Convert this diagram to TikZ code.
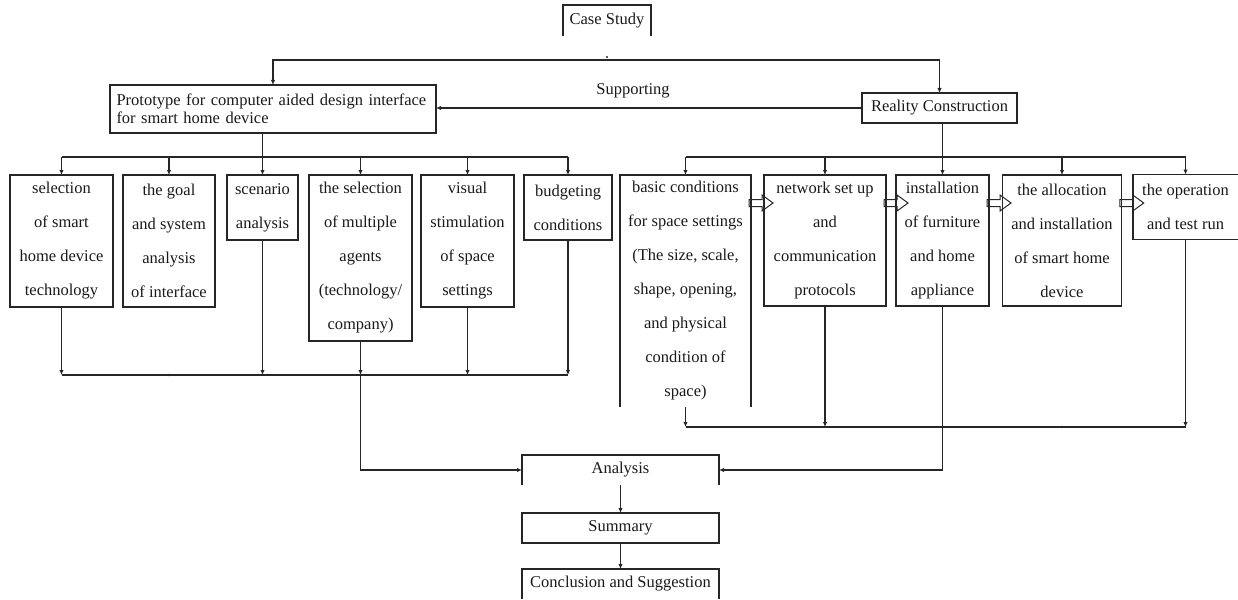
\documentclass[tikz,border=0pt]{standalone}
\usepackage{fontspec}
\setmainfont{Liberation Serif}
\usetikzlibrary{arrows.meta,calc}
\begin{document}
\begin{tikzpicture}[x=1pt,y=-1pt,
  every node/.style={inner sep=0pt, outer sep=0pt},
  txt/.style={font=\fontsize{16.5}{34}\selectfont, align=center, text=black!90},
  box/.style={draw=black!85, line width=1.2pt, txt},
  conn/.style={draw=black!85, line width=1.2pt},
  arr/.style={conn, -{Latex[length=5pt,width=4.5pt]}},
  side/.style={draw=black!85, line width=1.2pt},
  hollowarr/.pic={\draw[draw=black!85, line width=1pt] (0,-3.5) -- (13,-3.5) -- (13,-8) -- (24,0) -- (13,8) -- (13,3.5) -- (0,3.5) -- cycle;}
]
\useasboundingbox (0,0) rectangle (1238,599);

% top
\node[txt, minimum width=88, minimum height=31] (cs) at (607,20.5) {Case Study};
\draw[side] (cs.south west) -- (cs.north west) -- (cs.north east) -- (cs.south east);
\fill[black!85] ([yshift=-21pt]cs.south) circle (1.1pt);
\coordinate (top) at (607,60);

\node[box, minimum width=326, minimum height=48, align=left, text width=313,
      font=\fontsize{16.5}{18.5}\selectfont] (proto) at (273,109)
  {Prototype for computer aided design interface\\for smart home device};
\node[box, minimum width=155, minimum height=30] (rc) at (939.5,108) {Reality Construction};
\node[txt] (sup) at (633,91) {Supporting};

\draw[arr] (top) -| (proto.north);
\draw[arr] (top) -| (rc.north);
\draw[arr] (rc.west) -- (rc.west -| proto.east);

% left boxes
\node[box, minimum width=103, minimum height=132] (b1) at (61.5,241) {selection\\of smart\\home device\\technology};
\node[box, minimum width=92, minimum height=132] (b2) at (169,241) {the goal\\and system\\analysis\\of interface};
\node[box, minimum width=71, minimum height=65] (b3) at (262.5,207.5) {scenario\\analysis};
\node[box, minimum width=103, minimum height=166] (b4) at (360.5,258) {the selection\\of multiple\\agents\\(technology/\\company)};
\node[box, minimum width=93, minimum height=132] (b5) at (467.5,241) {visual\\stimulation\\of space\\settings};
\node[box, minimum width=88, minimum height=65] (b6) at (568,207.5) {budgeting\\conditions};

\draw[arr] (proto.south -| b3.north) -- (b3.north);
\draw[conn] (b1.north |- 0,157) -- (b6.north |- 0,157);
\foreach \b in {b1,b2,b4,b5,b6} { \draw[arr] (\b.north |- 0,157) -- (\b.north); }

\draw[conn] (b1.south |- 0,375) -- (b6.south |- 0,375);
\foreach \b in {b1,b3,b4,b5,b6} { \draw[arr] (\b.south) -- (\b.south |- 0,375); }
\fill[black!85] (b2.south |- 0,375) circle (1.3pt);

% right boxes
\node[txt, minimum width=131, minimum height=232] (b7) at (685.5,291) {basic conditions\\for space settings\\(The size, scale,\\shape, opening,\\and physical\\condition of\\space)};
\draw[side] (b7.south west) -- (b7.north west) -- (b7.north east) -- (b7.south east);
\node[box, minimum width=122, minimum height=131] (b8) at (825,240.5) {network set up\\and\\communication\\protocols};
\node[box, minimum width=93, minimum height=131] (b9) at (942.5,240.5) {installation\\of furniture\\and home\\appliance};
\node[box, minimum width=119.5, minimum height=131] (b10) at (1062,240.5) {the allocation\\and installation\\of smart home\\device};
\node[txt, minimum width=105, minimum height=65] (b11) at (1185.5,207) {the operation\\and test run};
\draw[side] (b11.north east) -- (b11.north west) -- (b11.south west) -- (b11.south east);

\draw[arr] (rc.south -| b9.north) -- (b9.north);
\draw[conn] (b7.north |- 0,157) -- (b11.north |- 0,157);
\foreach \b in {b7,b8,b10,b11} { \draw[arr] (\b.north |- 0,157) -- (\b.north); }

\foreach \b in {b7,b8,b9,b10} { \pic at ([xshift=-2pt,yshift=-28pt]\b.north east) {hollowarr}; }

\draw[conn] (b7.south |- 0,427) -- (b11.south |- 0,427);
\foreach \b in {b7,b8,b11} { \draw[arr] (\b.south) -- (\b.south |- 0,427); }
\fill[black!85] (b10.south |- 0,427) circle (1.3pt);
\fill[black!85] (b9.south |- 0,427) circle (1.3pt);

% bottom
\node[txt, minimum width=197, minimum height=30] (an) at (620.5,470) {Analysis};
\draw[side] (an.south west) -- (an.north west) -- (an.north east) -- (an.south east);
\node[box, minimum width=197, minimum height=30] (sum) at (620.5,528) {Summary};
\node[txt, minimum width=197, minimum height=30] (con) at (620.5,584) {Conclusion and Suggestion};
\draw[side] (con.south west) -- (con.north west) -- (con.north east) -- (con.south east);

\draw[arr] (b4.south |- 0,375) |- (an.west);
\draw[arr] (b9.south) |- (an.east);
\draw[arr] (an.south) -- (sum.north);
\draw[arr] (sum.south) -- (con.north);
\end{tikzpicture}
\end{document}
